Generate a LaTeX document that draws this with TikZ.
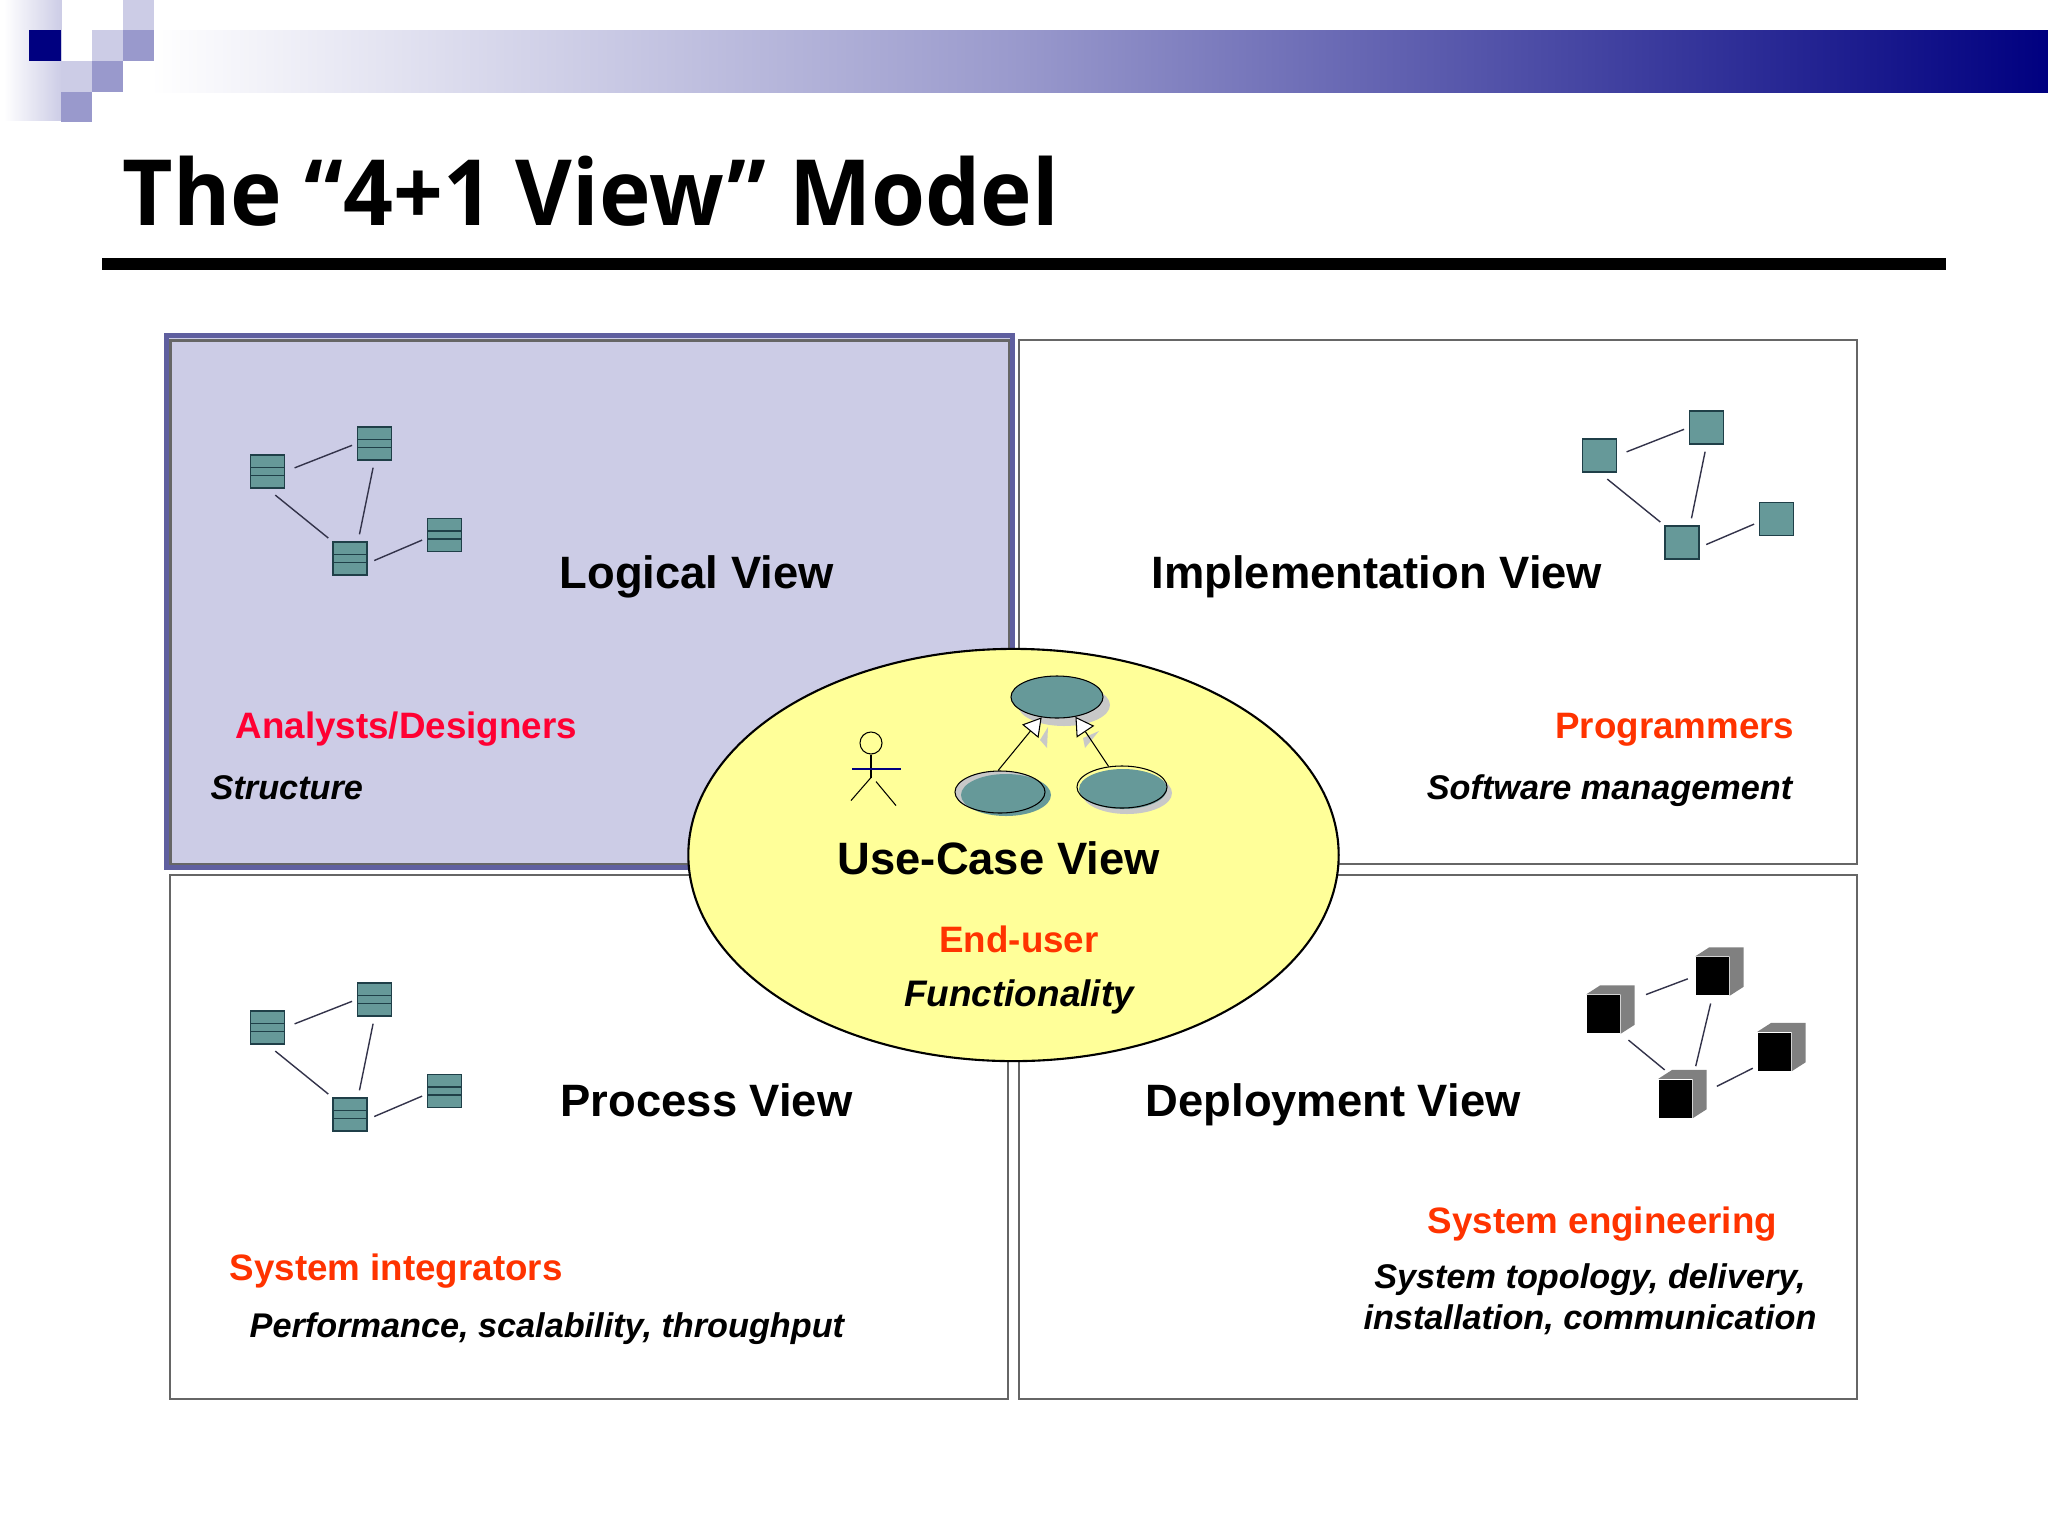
\documentclass[tikz,border=0pt]{standalone}
\usepackage{fontspec}
\setmainfont{Liberation Sans}
\newfontfamily\titlefont[FakeStretch=0.955]{Open Sans}
\usetikzlibrary{arrows.meta,shapes.geometric,calc}

\definecolor{bandlight}{HTML}{CCCCE6}
\definecolor{bandmid}{HTML}{9999CC}
\definecolor{bandnavy}{HTML}{000080}
\definecolor{viewgray}{HTML}{666666}
\definecolor{viewedge}{HTML}{5F5F9F}
\definecolor{usecasefill}{HTML}{FFFF99}
\definecolor{icongreen}{HTML}{669999}
\definecolor{iconedge}{HTML}{1F3F48}
\definecolor{linkgray}{HTML}{33334A}
\definecolor{cubeside}{HTML}{808080}
\definecolor{shadowgray}{HTML}{C8C8C8}
\definecolor{rolered}{HTML}{FF3300}
\definecolor{rolecrimson}{HTML}{FF0033}

\tikzset{
    viewbox/.style={draw=viewgray,line width=.8pt},
    viewlabel/.style={inner sep=0,anchor=base west,font=\fontsize{12.9}{15}\selectfont\bfseries},
    rolelabel/.style={inner sep=0,anchor=base west,text=rolered,font=\fontsize{10.45}{12}\selectfont\bfseries},
    tasklabel/.style={inner sep=0,anchor=base west,font=\fontsize{9.74}{12}\selectfont\bfseries\itshape},
    compbox/.style={draw=iconedge,fill=icongreen,line width=.45pt,inner sep=0,minimum width=.34cm,minimum height=.33cm},
    classbox/.style={compbox,path picture={
        \draw[iconedge,line width=.45pt] ([yshift=.04cm]path picture bounding box.west) -- ([yshift=.04cm]path picture bounding box.east);
        \draw[iconedge,line width=.45pt] ([yshift=-.04cm]path picture bounding box.west) -- ([yshift=-.04cm]path picture bounding box.east);
    }},
    cubebox/.style={fill=black,inner sep=0,minimum width=.33cm,minimum height=.38cm},
    link/.style={linkgray,line width=.4pt},
    usecase/.style={ellipse,draw=black,line width=.3pt,inner sep=0,minimum width=.92cm,minimum height=.42cm},
    generalize/.style={-{Triangle[open,fill=white,length=.18cm,width=.21cm]},black,line width=.3pt},
}

\begin{document}
\begin{tikzpicture}[x=.01cm,y=-.01cm]
    \useasboundingbox (0,0) rectangle (2048,1536);

    % Title band
    \shade[left color=white,right color=bandmid] (150,30) rectangle (1020,92);
    \shade[left color=bandmid,right color=bandnavy] (1020,30) rectangle (2048,92);
    \shade[left color=white,right color=bandlight] (4,0) rectangle (62,120);
    \fill[white] (62,0) rectangle (123,30);
    \fill[white] (62,30) rectangle (92,61);
    \fill[bandnavy] (29,30) rectangle (61,61);
    \fill[bandlight] (123,0) rectangle (154,30);
    \fill[bandmid] (123,30) rectangle (154,61);
    \fill[bandlight] (92,30) rectangle (123,61);
    \fill[bandmid] (92,61) rectangle (123,92);
    \fill[bandlight] (61,61) rectangle (92,92);
    \fill[bandmid] (61,92) rectangle (92,122);

    \node[inner sep=0,anchor=base west,font=\titlefont\fontsize{26}{30}\selectfont\bfseries] (title) at (122,225) {The “4+1 View” Model};
    \fill[black] (102,258) rectangle (1946,270);

    % Four views
    \draw[draw=viewedge,fill=bandlight,line width=1.42pt] (166.5,335.5) rectangle (1012.5,867.5);
    \draw[viewbox] (170.5,340.5) rectangle (1009,864);
    \draw[viewbox] (1019,340) rectangle (1857,864);
    \draw[viewbox] (170,875) rectangle (1008,1399);
    \draw[viewbox] (1019,875) rectangle (1857,1399);

    % Class and component icons
    \foreach \p/\x/\y/\s in {l/0/0/classbox,i/1332/-16/compbox,r/0/556/classbox} {
        \begin{scope}[shift={(\x,\y)}]
            \node[\s] (\p a) at (267.5,471.5) {};
            \node[\s] (\p b) at (374.5,443.5) {};
            \node[\s] (\p c) at (350,558.5) {};
            \node[\s] (\p d) at (444.5,535) {};
            \draw[link,shorten <=.1cm,shorten >=.05cm] (\p a.east) -- (\p b.west);
            \draw[link,shorten <=.1cm,shorten >=.05cm] (\p a.south) -- (\p c.north west);
            \draw[link,shorten <=.07cm,shorten >=.07cm] (\p b.south) -- (\p c.65);
            \draw[link,shorten <=.07cm,shorten >=.05cm] (\p c.-15) -- (\p d.190);
        \end{scope}
    }

    % Cubes
    \node[cubebox] (da) at (1603.5,1014) {};
    \node[cubebox] (db) at (1712.5,976) {};
    \node[cubebox] (dc) at (1675.5,1098.5) {};
    \node[cubebox] (dd) at (1774.5,1051.5) {};
    \foreach \n in {da,db,dc,dd} {
        \fill[cubeside] (\n.north west) -- ++(14,-9) -- ($(\n.north east)+(14,-9)$) -- ($(\n.south east)+(14,-9)$) -- (\n.south east) -- (\n.north east) -- cycle;
    }
    \draw[link,shorten <=.27cm,shorten >=.08cm] (da.30) -- (db.west);
    \draw[link,shorten <=.1cm,shorten >=.14cm] (da.south east) -- (dc.north);
    \draw[link,shorten <=.08cm,shorten >=.13cm] (db.south) -- (dc.north east);
    \draw[link,shorten <=.27cm,shorten >=.05cm] (dc.east) -- (dd.-140);

    % Use-case ellipse
    \node[ellipse,draw=black,fill=usecasefill,line width=.6pt,inner sep=0,minimum width=6.5cm,minimum height=4.12cm] (usecaseview) at (1013.5,855) {};

    % Actor
    \node[circle,draw=black,line width=.3pt,inner sep=0,minimum size=.22cm] (actorhead) at (871,743) {};
    \draw[black,line width=.3pt] (actorhead.south) -- ++(0,23) coordinate (actorhip);
    \draw[black,line width=.3pt] (actorhip) -- ++(-20,23);
    \draw[black,line width=.3pt] (actorhip)++(5,4) -- ++(20,24);
    \draw[bandnavy,line width=.5pt] (852,769) -- (901,769);

    % Use-case bubbles
    \fill[shadowgray] (1064,705) ellipse (46 and 21);
    \fill[icongreen] (1057,697) ellipse (46 and 21);
    \fill[shadowgray] (1000,792) ellipse (45 and 21);
    \fill[icongreen] (1006,795) ellipse (45 and 21);
    \fill[shadowgray] (1127,793) ellipse (45 and 21);
    \fill[icongreen] (1123,789) ellipse (44 and 20);
    \fill[shadowgray] (1048,727) -- (1047,748) -- (1040,740) -- cycle;
    \fill[shadowgray] (1099,731) -- (1085,748) -- (1083,738) -- cycle;
    \node[usecase] (usetop) at (1057,697) {};
    \node[usecase,minimum width=.9cm] (useleft) at (1000,792) {};
    \node[usecase,minimum width=.9cm] (useright) at (1122,787) {};
    \draw[generalize] (useleft.95) -- (usetop.-127);
    \draw[generalize] (useright.123) -- (usetop.-47);

    % Labels
    \node[viewlabel] (logical) at (559,588.5) {Logical View};
    \node[viewlabel] (implementation) at (1151,588.5) {Implementation View};
    \node[viewlabel] (process) at (560,1116) {Process View};
    \node[viewlabel] (deployment) at (1145,1116) {Deployment View};
    \node[viewlabel] (usecaselabel) at (837,874) {Use-Case View};

    \node[rolelabel,text=rolecrimson] (analysts) at (235,738) {Analysts/Designers};
    \node[tasklabel] (structure) at (210,799) {Structure};
    \node[rolelabel,anchor=base east] (programmers) at (1795,738) {Programmers};
    \node[tasklabel,anchor=base east] (software) at (1793,799) {Software management};
    \node[rolelabel,anchor=base] (enduser) at (1019,952) {End-user};
    \node[tasklabel,font=\fontsize{10.5}{12}\selectfont\bfseries\itshape,anchor=base] (functionality) at (1019,1006) {Functionality};
    \node[rolelabel] (integrators) at (229,1280) {System integrators};
    \node[tasklabel] (performance) at (249,1337) {Performance, scalability, throughput};
    \node[rolelabel] (engineering) at (1427,1233) {System engineering};
    \node[tasklabel,anchor=base] (topology) at (1590,1288) {System topology, delivery,};
    \node[tasklabel,anchor=base] (installation) at (1590,1329) {installation, communication};
\end{tikzpicture}
\end{document}
